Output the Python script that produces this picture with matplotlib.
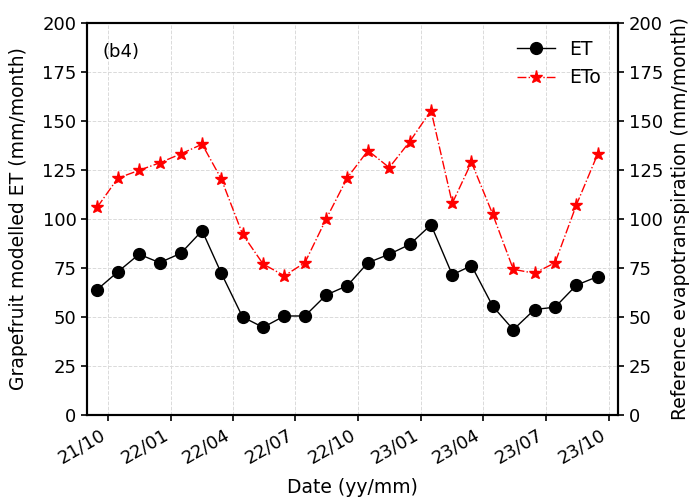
import matplotlib.pyplot as plt
import matplotlib.dates as mdates
import numpy as np
import pandas as pd

# monthly values, Sep 2021 - Sep 2023 (plotted mid-month)
dates = pd.date_range("2021-09-01", periods=25, freq="MS") + pd.Timedelta(days=14)
et = [64, 73, 82, 77.7, 82.5, 94, 72.3, 50, 44.7, 50.5, 50.5, 61.2, 66, 77.7, 82,
      87, 97, 71.5, 76.2, 55.5, 43.5, 53.8, 55, 66.2, 70.6]
eto = [106, 120.8, 124.8, 128.6, 133.2, 138.1, 120.4, 92.2, 77, 71, 77.7, 100, 121.1,
       134.9, 126.2, 139.5, 155.3, 108, 128.9, 102.4, 74.3, 72.3, 77.7, 107.1, 133]
tick_dates = pd.date_range("2021-10-01", "2023-10-01", freq="3MS")

fig = plt.figure(figsize=(6.93, 4.98), dpi=100)
ax = fig.add_axes([0.1255, 0.1667, 0.7665, 0.7873])
ax2 = ax.twinx()

l1, = ax.plot(dates, et, "-", color="black", lw=1, marker="o", ms=8.5, label="ET")
l2, = ax.plot(dates, eto, "-.", color="red", lw=1, marker="*", ms=9.5, label="ETo")

ax.set_xlim(pd.Timestamp("2021-08-31"), pd.Timestamp("2023-10-15"))
ax.set_xticks(tick_dates)
ax.xaxis.set_major_formatter(mdates.DateFormatter("%y/%m"))
plt.setp(ax.get_xticklabels(), rotation=30, ha="right")

yt = np.arange(0, 201, 25)
for a in (ax, ax2):
    a.set_ylim(0, 200)
    a.set_yticks(yt)
    a.tick_params(labelsize=13, width=1.2, length=4)
    for s in a.spines.values():
        s.set_linewidth(1.5)

ax.grid(True, ls="--", color="#dadada", lw=0.7)
ax.set_xlabel("Date (yy/mm)", fontsize=13.5, labelpad=8)
ax.set_ylabel("Grapefruit modelled ET (mm/month)", fontsize=13.5, labelpad=10)
ax2.set_ylabel("Reference evapotranspiration (mm/month)", fontsize=13.5, labelpad=6)
ax.text(0.03, 0.95, "(b4)", transform=ax.transAxes, fontsize=13, va="top")
ax.legend(handles=[l1, l2], loc="upper right", fontsize=13.5, frameon=False)

fig.savefig("out.png", dpi=100)
